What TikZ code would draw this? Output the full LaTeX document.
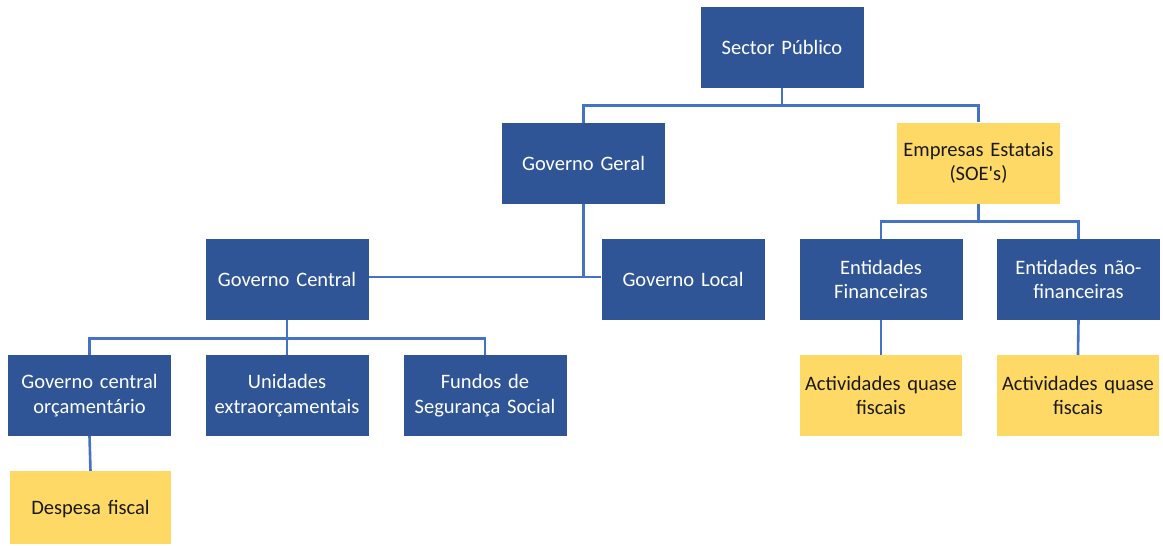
\documentclass[tikz,border=0pt]{standalone}
\usepackage{fontspec}
\setmainfont{Carlito}
\definecolor{boxblue}{HTML}{2F5597}
\definecolor{linkblue}{HTML}{4472C4}
\definecolor{boxyellow}{HTML}{FFD966}

\tikzset{
  unit/.style={rectangle, minimum width=163pt, minimum height=81pt, inner sep=0pt,
    text width=160pt, align=center, font=\fontsize{20.5}{24.5}\selectfont},
  bluebox/.style={unit, fill=boxblue, text=white},
  yellowbox/.style={unit, fill=boxyellow, text=black!90},
  link/.style={draw=linkblue, line width=2.6pt}
}

\begin{document}
\begin{tikzpicture}[x=1pt,y=-1pt]
    \useasboundingbox (0,0) rectangle (1163,546);
    % Top levels
    \node[bluebox] (sp) at (782,47.5) {Sector Público};
    \node[bluebox] (gg) at (583.5,163.5) {Governo Geral};
    \node[yellowbox] (soe) at (978.5,163) {Empresas Estatais\\(SOE\textquotesingle s)};
    % Government levels
    \node[bluebox] (gc) at (287,279.5) {Governo Central};
    \node[bluebox] (gl) at (683,279.5) {Governo Local};
    \node[bluebox] (gco) at (89.5,395.5) {Governo central\\orçamentário};
    \node[bluebox] (ue) at (287,395.5) {Unidades\\extraorçamentais};
    \node[bluebox] (fss) at (485,395.5) {Fundos de\\Segurança Social};
    \node[yellowbox, minimum width=161pt, minimum height=73pt, text depth=-4pt] (df) at (90.5,507.5) {Despesa fiscal};
    % State enterprises
    \node[bluebox] (ef) at (881,279.5) {Entidades\\Financeiras};
    \node[bluebox] (enf) at (1078.5,279.5) {Entidades não-\\financeiras};
    \node[yellowbox, minimum width=162pt] (aqf1) at (881,395.5) {Actividades quase\\fiscais};
    \node[yellowbox, minimum width=162pt] (aqf2) at (1078,395.5) {Actividades quase\\fiscais};
    % Connectors
    \draw[link] (sp.south) -- ++(0,17) -| (gg.north);
    \draw[link] (sp.south) -- ++(0,17) -| (soe.north);
    \draw[link] (gc.east) ++(0,-2.5) -- ([yshift=2.5pt]gl.west);
    \draw[link] (gg.south) -- ++(0,73);
    \draw[link] (gc.south) -- ++(0,18) -| (gco.north);
    \draw[link] (gc.south) -- ++(0,18) -| (fss.north);
    \draw[link] (gc.south) -- (ue.north);
    \draw[link] (gco.south) -- (df.north);
    \draw[link] (soe.south) -- ++(0,18) -| (ef.north);
    \draw[link] (soe.south) -- ++(0,18) -| (enf.north);
    \draw[link] (ef.south) -- (aqf1.north);
    \draw[link] (enf.south) -- (aqf2.north);
\end{tikzpicture}
\end{document}
